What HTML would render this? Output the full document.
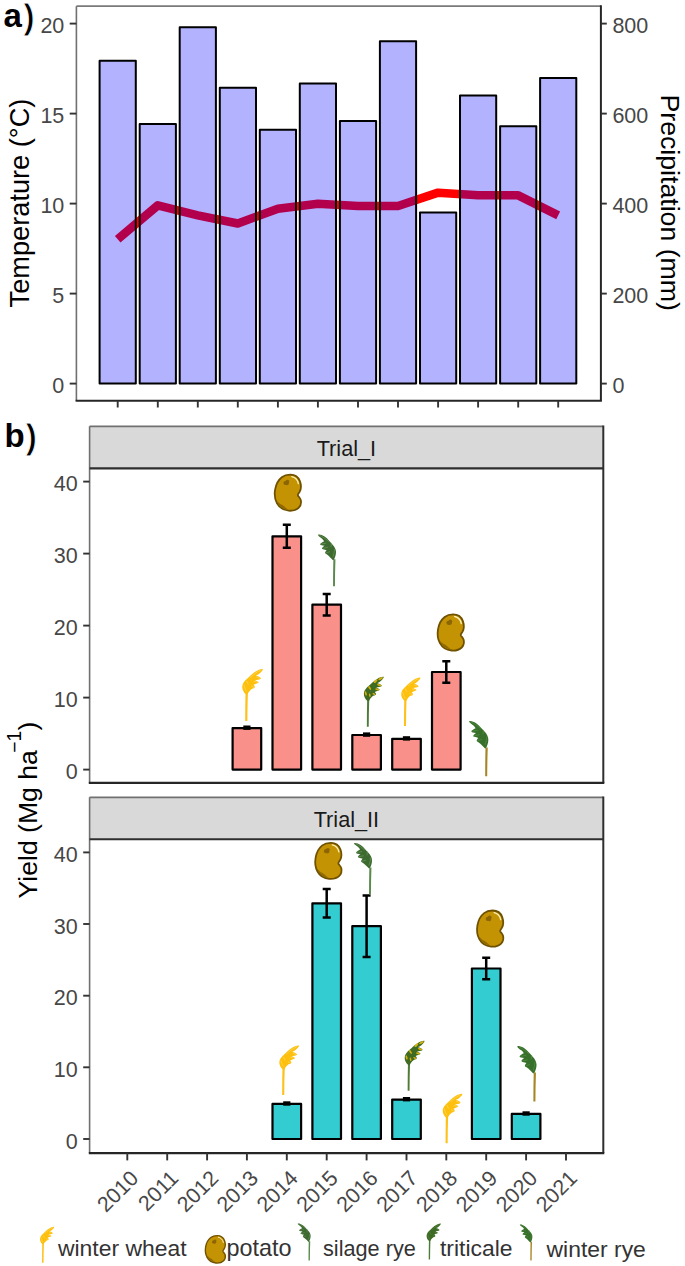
<!DOCTYPE html>
<html><head><meta charset="utf-8"><style>
html,body{margin:0;padding:0;background:#fff;width:685px;height:1266px;overflow:hidden}
svg{display:block}
text{font-family:"Liberation Sans", sans-serif}
.tk{font-size:21.5px;fill:#474747}
.ti{font-size:27.2px;fill:#000}
.st{font-size:21.7px;fill:#1a1a1a}
.lab{font-size:33px;font-weight:bold;fill:#000}
.par{font-size:34.5px;font-weight:bold;fill:#000;stroke:#fff;stroke-width:0.9px;paint-order:normal}
.lg{font-size:22.6px;fill:#333}
</style></head><body>
<svg width="685" height="1266" viewBox="0 0 685 1266">
<rect width="685" height="1266" fill="#fff"/>
<polyline points="117.7,239.3 157.8,205.4 197.8,215.4 237.8,223.5 277.9,208.7 317.9,203.8 358.0,206.0 398.0,206.0 438.1,192.7 478.1,195.3 518.2,195.3 558.2,215.4" fill="none" stroke="#ff0000" stroke-width="8.6" stroke-linejoin="round"/>
<rect x="99.6" y="60.7" width="36.2" height="322.9" fill="rgba(0,0,255,0.3)" stroke="#000" stroke-width="2.0" stroke-linejoin="round"/>
<rect x="139.7" y="123.9" width="36.2" height="259.7" fill="rgba(0,0,255,0.3)" stroke="#000" stroke-width="2.0" stroke-linejoin="round"/>
<rect x="179.7" y="27.2" width="36.2" height="356.4" fill="rgba(0,0,255,0.3)" stroke="#000" stroke-width="2.0" stroke-linejoin="round"/>
<rect x="219.8" y="87.7" width="36.2" height="295.9" fill="rgba(0,0,255,0.3)" stroke="#000" stroke-width="2.0" stroke-linejoin="round"/>
<rect x="259.8" y="129.7" width="36.2" height="253.9" fill="rgba(0,0,255,0.3)" stroke="#000" stroke-width="2.0" stroke-linejoin="round"/>
<rect x="299.8" y="83.4" width="36.2" height="300.2" fill="rgba(0,0,255,0.3)" stroke="#000" stroke-width="2.0" stroke-linejoin="round"/>
<rect x="339.9" y="121.0" width="36.2" height="262.6" fill="rgba(0,0,255,0.3)" stroke="#000" stroke-width="2.0" stroke-linejoin="round"/>
<rect x="379.9" y="41.3" width="36.2" height="342.3" fill="rgba(0,0,255,0.3)" stroke="#000" stroke-width="2.0" stroke-linejoin="round"/>
<rect x="420.0" y="212.4" width="36.2" height="171.2" fill="rgba(0,0,255,0.3)" stroke="#000" stroke-width="2.0" stroke-linejoin="round"/>
<rect x="460.0" y="95.5" width="36.2" height="288.1" fill="rgba(0,0,255,0.3)" stroke="#000" stroke-width="2.0" stroke-linejoin="round"/>
<rect x="500.1" y="126.3" width="36.2" height="257.3" fill="rgba(0,0,255,0.3)" stroke="#000" stroke-width="2.0" stroke-linejoin="round"/>
<rect x="540.1" y="78.0" width="36.2" height="305.6" fill="rgba(0,0,255,0.3)" stroke="#000" stroke-width="2.0" stroke-linejoin="round"/>
<line x1="76.4" y1="6.2" x2="600.9" y2="6.2" stroke="#7a7a7a" stroke-width="1.8"/>
<line x1="76.4" y1="6.2" x2="76.4" y2="400.8" stroke="#707070" stroke-width="1.6"/>
<line x1="75.60000000000001" y1="400.8" x2="601.9" y2="400.8" stroke="#262626" stroke-width="2"/>
<line x1="600.9" y1="5.3" x2="600.9" y2="400.8" stroke="#262626" stroke-width="2"/>
<line x1="69.7" y1="383.6" x2="76.4" y2="383.6" stroke="#333" stroke-width="1.9"/>
<line x1="600.9" y1="383.6" x2="606.8" y2="383.6" stroke="#333" stroke-width="1.9"/>
<text x="64.3" y="393.2" text-anchor="end" class="tk">0</text>
<text x="612.4" y="393.2" class="tk">0</text>
<line x1="69.7" y1="293.6" x2="76.4" y2="293.6" stroke="#333" stroke-width="1.9"/>
<line x1="600.9" y1="293.6" x2="606.8" y2="293.6" stroke="#333" stroke-width="1.9"/>
<text x="64.3" y="303.2" text-anchor="end" class="tk">5</text>
<text x="612.4" y="303.2" class="tk">200</text>
<line x1="69.7" y1="203.6" x2="76.4" y2="203.6" stroke="#333" stroke-width="1.9"/>
<line x1="600.9" y1="203.6" x2="606.8" y2="203.6" stroke="#333" stroke-width="1.9"/>
<text x="64.3" y="213.2" text-anchor="end" class="tk">10</text>
<text x="612.4" y="213.2" class="tk">400</text>
<line x1="69.7" y1="113.6" x2="76.4" y2="113.6" stroke="#333" stroke-width="1.9"/>
<line x1="600.9" y1="113.6" x2="606.8" y2="113.6" stroke="#333" stroke-width="1.9"/>
<text x="64.3" y="123.2" text-anchor="end" class="tk">15</text>
<text x="612.4" y="123.2" class="tk">600</text>
<line x1="69.7" y1="23.6" x2="76.4" y2="23.6" stroke="#333" stroke-width="1.9"/>
<line x1="600.9" y1="23.6" x2="606.8" y2="23.6" stroke="#333" stroke-width="1.9"/>
<text x="64.3" y="33.2" text-anchor="end" class="tk">20</text>
<text x="612.4" y="33.2" class="tk">800</text>
<line x1="117.7" y1="400.8" x2="117.7" y2="407.5" stroke="#333" stroke-width="1.9"/>
<line x1="157.8" y1="400.8" x2="157.8" y2="407.5" stroke="#333" stroke-width="1.9"/>
<line x1="197.8" y1="400.8" x2="197.8" y2="407.5" stroke="#333" stroke-width="1.9"/>
<line x1="237.8" y1="400.8" x2="237.8" y2="407.5" stroke="#333" stroke-width="1.9"/>
<line x1="277.9" y1="400.8" x2="277.9" y2="407.5" stroke="#333" stroke-width="1.9"/>
<line x1="317.9" y1="400.8" x2="317.9" y2="407.5" stroke="#333" stroke-width="1.9"/>
<line x1="358.0" y1="400.8" x2="358.0" y2="407.5" stroke="#333" stroke-width="1.9"/>
<line x1="398.0" y1="400.8" x2="398.0" y2="407.5" stroke="#333" stroke-width="1.9"/>
<line x1="438.1" y1="400.8" x2="438.1" y2="407.5" stroke="#333" stroke-width="1.9"/>
<line x1="478.1" y1="400.8" x2="478.1" y2="407.5" stroke="#333" stroke-width="1.9"/>
<line x1="518.2" y1="400.8" x2="518.2" y2="407.5" stroke="#333" stroke-width="1.9"/>
<line x1="558.2" y1="400.8" x2="558.2" y2="407.5" stroke="#333" stroke-width="1.9"/>
<text transform="translate(28.6,203) rotate(-90)" text-anchor="middle" class="ti">Temperature (°C)</text>
<text transform="translate(660.6,202.7) rotate(90)" text-anchor="middle" class="ti" style="font-size:26.7px">Precipitation (mm)</text>
<text transform="translate(3.6,27.2) scale(1.0,1)" class="lab">a</text><text x="23.2" y="29.0" class="par">)</text>
<rect x="89.6" y="426.3" width="513.6999999999999" height="42.099999999999966" fill="#d9d9d9"/>
<line x1="89.6" y1="426.3" x2="603.3" y2="426.3" stroke="#707070" stroke-width="1.8"/>
<text x="346.4" y="455.8" text-anchor="middle" class="st">Trial_I</text>
<rect x="232.6" y="728.1" width="28.6" height="41.5" fill="#f9918a" stroke="#000" stroke-width="2.2" stroke-linejoin="round"/>
<rect x="243.3" y="725.5" width="7.2" height="4.4" fill="#000"/>
<rect x="272.5" y="536.3" width="28.6" height="233.3" fill="#f9918a" stroke="#000" stroke-width="2.2" stroke-linejoin="round"/>
<path d="M282.8,524.8H290.8M286.8,524.8V547.8M282.8,547.8H290.8" stroke="#000" stroke-width="2.5" fill="none"/>
<rect x="312.4" y="604.7" width="28.6" height="164.9" fill="#f9918a" stroke="#000" stroke-width="2.2" stroke-linejoin="round"/>
<path d="M322.7,593.9H330.7M326.7,593.9V615.5M322.7,615.5H330.7" stroke="#000" stroke-width="2.5" fill="none"/>
<rect x="352.3" y="735.0" width="28.6" height="34.6" fill="#f9918a" stroke="#000" stroke-width="2.2" stroke-linejoin="round"/>
<rect x="363.0" y="732.4" width="7.2" height="4.4" fill="#000"/>
<rect x="392.2" y="738.8" width="28.6" height="30.8" fill="#f9918a" stroke="#000" stroke-width="2.2" stroke-linejoin="round"/>
<rect x="402.9" y="736.2" width="7.2" height="4.4" fill="#000"/>
<rect x="432.0" y="672.0" width="28.6" height="97.6" fill="#f9918a" stroke="#000" stroke-width="2.2" stroke-linejoin="round"/>
<path d="M442.3,661.2H450.3M446.3,661.2V682.8M442.3,682.8H450.3" stroke="#000" stroke-width="2.5" fill="none"/>
<line x1="89.6" y1="426.3" x2="89.6" y2="782.9" stroke="#707070" stroke-width="1.6"/>
<line x1="603.3" y1="425.40000000000003" x2="603.3" y2="782.9" stroke="#2e2e2e" stroke-width="2"/>
<line x1="89.6" y1="468.4" x2="603.3" y2="468.4" stroke="#2e2e2e" stroke-width="2.1"/>
<line x1="88.8" y1="782.9" x2="604.3" y2="782.9" stroke="#262626" stroke-width="2.1"/>
<line x1="83.2" y1="769.6" x2="89.6" y2="769.6" stroke="#333" stroke-width="1.9"/>
<text x="77.6" y="779.2" text-anchor="end" class="tk">0</text>
<line x1="83.2" y1="697.6" x2="89.6" y2="697.6" stroke="#333" stroke-width="1.9"/>
<text x="77.6" y="707.2" text-anchor="end" class="tk">10</text>
<line x1="83.2" y1="625.6" x2="89.6" y2="625.6" stroke="#333" stroke-width="1.9"/>
<text x="77.6" y="635.2" text-anchor="end" class="tk">20</text>
<line x1="83.2" y1="553.6" x2="89.6" y2="553.6" stroke="#333" stroke-width="1.9"/>
<text x="77.6" y="563.2" text-anchor="end" class="tk">30</text>
<line x1="83.2" y1="481.6" x2="89.6" y2="481.6" stroke="#333" stroke-width="1.9"/>
<text x="77.6" y="491.2" text-anchor="end" class="tk">40</text>
<rect x="89.6" y="797.3" width="513.6999999999999" height="41.90000000000009" fill="#d9d9d9"/>
<line x1="89.6" y1="797.3" x2="603.3" y2="797.3" stroke="#707070" stroke-width="1.8"/>
<text x="346.4" y="826.8" text-anchor="middle" class="st">Trial_II</text>
<rect x="272.5" y="1103.9" width="28.6" height="35.1" fill="#33ccd0" stroke="#000" stroke-width="2.2" stroke-linejoin="round"/>
<rect x="283.2" y="1101.3" width="7.2" height="4.4" fill="#000"/>
<rect x="312.4" y="903.3" width="28.6" height="235.7" fill="#33ccd0" stroke="#000" stroke-width="2.2" stroke-linejoin="round"/>
<path d="M322.7,888.9H330.7M326.7,888.9V917.6M322.7,917.6H330.7" stroke="#000" stroke-width="2.5" fill="none"/>
<rect x="352.3" y="926.2" width="28.6" height="212.8" fill="#33ccd0" stroke="#000" stroke-width="2.2" stroke-linejoin="round"/>
<path d="M362.6,895.4H370.6M366.6,895.4V957.0M362.6,957.0H370.6" stroke="#000" stroke-width="2.5" fill="none"/>
<rect x="392.2" y="1099.6" width="28.6" height="39.4" fill="#33ccd0" stroke="#000" stroke-width="2.2" stroke-linejoin="round"/>
<rect x="402.9" y="1097.0" width="7.2" height="4.4" fill="#000"/>
<rect x="471.9" y="968.5" width="28.6" height="170.5" fill="#33ccd0" stroke="#000" stroke-width="2.2" stroke-linejoin="round"/>
<path d="M482.2,957.7H490.2M486.2,957.7V979.2M482.2,979.2H490.2" stroke="#000" stroke-width="2.5" fill="none"/>
<rect x="511.8" y="1113.9" width="28.6" height="25.1" fill="#33ccd0" stroke="#000" stroke-width="2.2" stroke-linejoin="round"/>
<rect x="522.5" y="1111.3" width="7.2" height="4.4" fill="#000"/>
<line x1="89.6" y1="797.3" x2="89.6" y2="1153.1" stroke="#707070" stroke-width="1.6"/>
<line x1="603.3" y1="796.4" x2="603.3" y2="1153.1" stroke="#2e2e2e" stroke-width="2"/>
<line x1="89.6" y1="839.2" x2="603.3" y2="839.2" stroke="#2e2e2e" stroke-width="2.1"/>
<line x1="88.8" y1="1153.1" x2="604.3" y2="1153.1" stroke="#262626" stroke-width="2.1"/>
<line x1="83.2" y1="1139.0" x2="89.6" y2="1139.0" stroke="#333" stroke-width="1.9"/>
<text x="77.6" y="1148.6" text-anchor="end" class="tk">0</text>
<line x1="83.2" y1="1067.3" x2="89.6" y2="1067.3" stroke="#333" stroke-width="1.9"/>
<text x="77.6" y="1076.9" text-anchor="end" class="tk">10</text>
<line x1="83.2" y1="995.7" x2="89.6" y2="995.7" stroke="#333" stroke-width="1.9"/>
<text x="77.6" y="1005.3" text-anchor="end" class="tk">20</text>
<line x1="83.2" y1="924.0" x2="89.6" y2="924.0" stroke="#333" stroke-width="1.9"/>
<text x="77.6" y="933.6" text-anchor="end" class="tk">30</text>
<line x1="83.2" y1="852.4" x2="89.6" y2="852.4" stroke="#333" stroke-width="1.9"/>
<text x="77.6" y="862.0" text-anchor="end" class="tk">40</text>
<line x1="127.3" y1="1153.1" x2="127.3" y2="1160.4" stroke="#333" stroke-width="1.9"/>
<text transform="translate(139.8,1179.5) rotate(-45)" text-anchor="end" class="tk">2010</text>
<line x1="167.2" y1="1153.1" x2="167.2" y2="1160.4" stroke="#333" stroke-width="1.9"/>
<text transform="translate(179.7,1179.5) rotate(-45)" text-anchor="end" class="tk">2011</text>
<line x1="207.1" y1="1153.1" x2="207.1" y2="1160.4" stroke="#333" stroke-width="1.9"/>
<text transform="translate(219.6,1179.5) rotate(-45)" text-anchor="end" class="tk">2012</text>
<line x1="246.9" y1="1153.1" x2="246.9" y2="1160.4" stroke="#333" stroke-width="1.9"/>
<text transform="translate(259.4,1179.5) rotate(-45)" text-anchor="end" class="tk">2013</text>
<line x1="286.8" y1="1153.1" x2="286.8" y2="1160.4" stroke="#333" stroke-width="1.9"/>
<text transform="translate(299.3,1179.5) rotate(-45)" text-anchor="end" class="tk">2014</text>
<line x1="326.7" y1="1153.1" x2="326.7" y2="1160.4" stroke="#333" stroke-width="1.9"/>
<text transform="translate(339.2,1179.5) rotate(-45)" text-anchor="end" class="tk">2015</text>
<line x1="366.6" y1="1153.1" x2="366.6" y2="1160.4" stroke="#333" stroke-width="1.9"/>
<text transform="translate(379.1,1179.5) rotate(-45)" text-anchor="end" class="tk">2016</text>
<line x1="406.5" y1="1153.1" x2="406.5" y2="1160.4" stroke="#333" stroke-width="1.9"/>
<text transform="translate(419.0,1179.5) rotate(-45)" text-anchor="end" class="tk">2017</text>
<line x1="446.3" y1="1153.1" x2="446.3" y2="1160.4" stroke="#333" stroke-width="1.9"/>
<text transform="translate(458.8,1179.5) rotate(-45)" text-anchor="end" class="tk">2018</text>
<line x1="486.2" y1="1153.1" x2="486.2" y2="1160.4" stroke="#333" stroke-width="1.9"/>
<text transform="translate(498.7,1179.5) rotate(-45)" text-anchor="end" class="tk">2019</text>
<line x1="526.1" y1="1153.1" x2="526.1" y2="1160.4" stroke="#333" stroke-width="1.9"/>
<text transform="translate(538.6,1179.5) rotate(-45)" text-anchor="end" class="tk">2020</text>
<line x1="566.0" y1="1153.1" x2="566.0" y2="1160.4" stroke="#333" stroke-width="1.9"/>
<text transform="translate(578.5,1179.5) rotate(-45)" text-anchor="end" class="tk">2021</text>
<text transform="translate(37.0,810.0) rotate(-90)" text-anchor="middle" class="ti" style="font-size:26.6px">Yield (Mg ha<tspan dy="-15.6" dx="-2.6" style="font-size:19.3px">−1</tspan><tspan dy="15.6" dx="0.3">)</tspan></text>
<text transform="translate(4.6,446.9) scale(1.0,1)" class="lab">b</text><text x="25.4" y="448.8" class="par">)</text>
<g transform="translate(246.3,721.0) scale(1.040)"><path d="M-1.05,0 C-1.05,-9 -0.95,-18 -0.75,-27.5 L1.55,-27.5 C1.25,-18 1.05,-9 1.05,0 Z" fill="#fec11a"/><path d="M-0.3,-25.8 C-2.6,-27.4 -4.2,-30.6 -3.9,-33.5 C-3.6,-36.5 -1.5,-38.8 0.7,-40.7 C3.5,-43.3 6.2,-46.2 9.4,-47.9 C11.2,-49.0 13.5,-50.2 15.9,-50.0 C15.9,-48.9 15.3,-48.2 14.5,-47.4 C13.6,-46.4 12.5,-45.5 11.4,-44.6 C10.6,-44.2 9.9,-44 9.4,-43.8 C10.8,-43.3 12.2,-42.8 13.1,-42 C13.8,-41.5 14.1,-41.1 14.0,-40.7 C13.1,-40.1 12.3,-39.8 11.3,-39.7 C10.3,-39.6 9.3,-39.5 8.4,-39.3 C9.4,-38.7 10.6,-38.3 11.3,-37.8 C11.7,-37.5 11.9,-37.1 11.8,-36.8 C11.1,-36.3 10.3,-36.1 9.4,-35.9 C8.5,-35.6 7.7,-35.2 7.0,-34.9 C7.6,-34.3 8.1,-33.6 8.2,-33.0 C8.2,-32.5 8.0,-32.1 7.7,-31.8 C7,-31.5 6.2,-31.3 5.5,-31.1 C4.4,-30.3 3.4,-29.3 2.6,-28.2 C2,-27.4 1.6,-26.6 1.2,-25.8 Z" fill="#fec00e"/><g stroke="#ffe27c" stroke-width="0.7" fill="none" stroke-linecap="round" opacity="0.75"><path d="M3.5,-41.5 C6,-44 9,-46.5 13.5,-48.8"/><path d="M9.8,-42.4 L12.6,-41.2"/><path d="M7.6,-38.2 L10.6,-37.2"/><path d="M5.0,-33.6 L7.2,-32.4"/><path d="M-2.2,-34.5 C-1.8,-32.6 -1.2,-30.6 0,-28.8"/><path d="M0.4,-38.2 L1.8,-35.2"/></g></g>
<g transform="translate(274.5,474.1) scale(1.000)"><path d="M15.7,0.5 C20,0.5 24,2.9 25.5,7.2 C26.8,11 26.7,15 25.1,17.8 C24.1,19.4 23,20.2 23.4,21.4 C24,22.6 25.7,23.6 26.3,26 C26.9,28.8 26.3,31.6 24.3,33.6 C21.5,36.3 17.8,36.9 14.2,36.6 C9,36.1 4.8,33.5 2.5,29.2 C0.3,25.2 -0.2,20.2 0.6,15.5 C1.4,10.6 3.6,6.0 7.3,3.1 C9.6,1.3 12.4,0.5 15.7,0.5 Z" fill="#c49303" stroke="#6f5100" stroke-width="1.8"/><circle cx="11.0" cy="8.9" r="2.1" fill="#8c6600"/><circle cx="12.9" cy="7.5" r="1.9" fill="#8c6600"/><circle cx="12.6" cy="9.4" r="1.8" fill="#8c6600"/><path d="M17.3,2.6 C20.6,3.4 23.1,5.6 23.9,9.6" stroke="#fff1b8" stroke-width="1.3" fill="none" stroke-linecap="round"/><path d="M2.2,26.8 C3.6,31 7.6,34.6 13.2,35.6 C12.4,34 10.8,33.6 9.6,32.2 C8.4,30.6 6.4,30.8 5.2,29.4 C4.2,28.4 3.2,27.4 2.2,26.8 Z" fill="#8a6500" opacity="0.9"/></g>
<g transform="translate(334.0,586.2) scale(1.000)"><path d="M-0.95,0 C-0.95,-9 -0.85,-18 -0.65,-27.0 L1.45,-27.0 C1.15,-18 0.95,-9 0.95,0 Z" fill="#5a8a4b"/><path d="M-0.3,-26.3 C0.9,-28 2.1,-31.5 2.0,-34.4 C1.9,-36.6 0.8,-39.4 -1.8,-42 C-3.6,-43.8 -6.2,-47.6 -9.4,-49.6 C-11.6,-51 -14,-52 -15.9,-51.6 C-16,-50.9 -15.6,-50.4 -15.2,-50.0 C-14.1,-49.0 -12.9,-48.3 -11.9,-47.5 C-11.1,-46.8 -10.4,-45.9 -9.9,-45.0 C-11.4,-44.3 -12.8,-43.4 -13.7,-42.5 C-14,-42.1 -13.8,-41.6 -13.4,-41.2 C-12.1,-40.8 -10.6,-40.6 -9.4,-40.5 C-10.6,-39.8 -11.6,-38.8 -12.1,-37.9 C-12.2,-37.4 -11.7,-37.1 -11.1,-36.9 C-9.8,-36.5 -8.5,-36.2 -7.3,-35.9 C-8.1,-35.2 -8.8,-34.3 -8.9,-33.4 C-8.9,-32.8 -8.2,-32.3 -7.3,-31.9 C-6,-31 -4.8,-29.8 -3.8,-28.8 C-2.8,-27.8 -2,-27 -1.3,-26.3 Z" fill="#3c6a2f"/><g stroke="#78a266" stroke-width="0.75" fill="none" stroke-linecap="round" opacity="0.75"><path d="M-14.2,-50.8 C-11.5,-49.6 -8.5,-47.6 -5.5,-44.8"/><path d="M-12.4,-42.2 L-8.2,-43.0"/><path d="M-10.8,-37.9 L-6.6,-38.8"/><path d="M-7.8,-33.3 L-4.4,-34.4"/><path d="M0.6,-36.6 C0.4,-34.2 -0.2,-31.6 -1.0,-29.4"/><path d="M-2.6,-43.0 L-3.0,-39.6"/></g></g>
<g transform="translate(367.8,726.8) scale(1.000)"><path d="M-0.95,0 C-0.95,-9 -0.85,-18 -0.65,-27.5 L1.45,-27.5 C1.15,-18 0.95,-9 0.95,0 Z" fill="#4e7c38"/><path d="M-0.3,-25.8 C-2.6,-27.4 -4.2,-30.6 -3.9,-33.5 C-3.6,-36.5 -1.5,-38.8 0.7,-40.7 C3.5,-43.3 6.2,-46.2 9.4,-47.9 C11.2,-49.0 13.5,-50.2 15.9,-50.0 C15.9,-48.9 15.3,-48.2 14.5,-47.4 C13.6,-46.4 12.5,-45.5 11.4,-44.6 C10.6,-44.2 9.9,-44 9.4,-43.8 C10.8,-43.3 12.2,-42.8 13.1,-42 C13.8,-41.5 14.1,-41.1 14.0,-40.7 C13.1,-40.1 12.3,-39.8 11.3,-39.7 C10.3,-39.6 9.3,-39.5 8.4,-39.3 C9.4,-38.7 10.6,-38.3 11.3,-37.8 C11.7,-37.5 11.9,-37.1 11.8,-36.8 C11.1,-36.3 10.3,-36.1 9.4,-35.9 C8.5,-35.6 7.7,-35.2 7.0,-34.9 C7.6,-34.3 8.1,-33.6 8.2,-33.0 C8.2,-32.5 8.0,-32.1 7.7,-31.8 C7,-31.5 6.2,-31.3 5.5,-31.1 C4.4,-30.3 3.4,-29.3 2.6,-28.2 C2,-27.4 1.6,-26.6 1.2,-25.8 Z" fill="#3f6b22"/><ellipse cx="12.8" cy="-48.2" rx="2.6" ry="1.0" transform="rotate(-28,12.8,-48.2)" fill="#d7b00c"/><ellipse cx="7.8" cy="-45.6" rx="2.4" ry="1.0" transform="rotate(-45,7.8,-45.6)" fill="#d7b00c"/><ellipse cx="11.4" cy="-41.7" rx="2.2" ry="0.9" transform="rotate(22,11.4,-41.7)" fill="#d7b00c"/><ellipse cx="9.4" cy="-37.4" rx="2.0" ry="0.9" transform="rotate(14,9.4,-37.4)" fill="#d7b00c"/><ellipse cx="6.1" cy="-32.8" rx="1.5" ry="0.8" transform="rotate(25,6.1,-32.8)" fill="#d7b00c"/><ellipse cx="-2.0" cy="-33.4" rx="0.9" ry="2.3" transform="rotate(-15,-2.0,-33.4)" fill="#d7b00c"/><ellipse cx="1.9" cy="-38.8" rx="0.9" ry="2.2" transform="rotate(-35,1.9,-38.8)" fill="#d7b00c"/><ellipse cx="2.0" cy="-31.5" rx="0.8" ry="1.8" transform="rotate(-10,2.0,-31.5)" fill="#d7b00c"/></g>
<g transform="translate(405.0,726.0) scale(0.970)"><path d="M-1.05,0 C-1.05,-9 -0.95,-18 -0.75,-27.5 L1.55,-27.5 C1.25,-18 1.05,-9 1.05,0 Z" fill="#fec11a"/><path d="M-0.3,-25.8 C-2.6,-27.4 -4.2,-30.6 -3.9,-33.5 C-3.6,-36.5 -1.5,-38.8 0.7,-40.7 C3.5,-43.3 6.2,-46.2 9.4,-47.9 C11.2,-49.0 13.5,-50.2 15.9,-50.0 C15.9,-48.9 15.3,-48.2 14.5,-47.4 C13.6,-46.4 12.5,-45.5 11.4,-44.6 C10.6,-44.2 9.9,-44 9.4,-43.8 C10.8,-43.3 12.2,-42.8 13.1,-42 C13.8,-41.5 14.1,-41.1 14.0,-40.7 C13.1,-40.1 12.3,-39.8 11.3,-39.7 C10.3,-39.6 9.3,-39.5 8.4,-39.3 C9.4,-38.7 10.6,-38.3 11.3,-37.8 C11.7,-37.5 11.9,-37.1 11.8,-36.8 C11.1,-36.3 10.3,-36.1 9.4,-35.9 C8.5,-35.6 7.7,-35.2 7.0,-34.9 C7.6,-34.3 8.1,-33.6 8.2,-33.0 C8.2,-32.5 8.0,-32.1 7.7,-31.8 C7,-31.5 6.2,-31.3 5.5,-31.1 C4.4,-30.3 3.4,-29.3 2.6,-28.2 C2,-27.4 1.6,-26.6 1.2,-25.8 Z" fill="#fec00e"/><g stroke="#ffe27c" stroke-width="0.7" fill="none" stroke-linecap="round" opacity="0.75"><path d="M3.5,-41.5 C6,-44 9,-46.5 13.5,-48.8"/><path d="M9.8,-42.4 L12.6,-41.2"/><path d="M7.6,-38.2 L10.6,-37.2"/><path d="M5.0,-33.6 L7.2,-32.4"/><path d="M-2.2,-34.5 C-1.8,-32.6 -1.2,-30.6 0,-28.8"/><path d="M0.4,-38.2 L1.8,-35.2"/></g></g>
<g transform="translate(437.4,613.9) scale(1.000)"><path d="M15.7,0.5 C20,0.5 24,2.9 25.5,7.2 C26.8,11 26.7,15 25.1,17.8 C24.1,19.4 23,20.2 23.4,21.4 C24,22.6 25.7,23.6 26.3,26 C26.9,28.8 26.3,31.6 24.3,33.6 C21.5,36.3 17.8,36.9 14.2,36.6 C9,36.1 4.8,33.5 2.5,29.2 C0.3,25.2 -0.2,20.2 0.6,15.5 C1.4,10.6 3.6,6.0 7.3,3.1 C9.6,1.3 12.4,0.5 15.7,0.5 Z" fill="#c49303" stroke="#6f5100" stroke-width="1.8"/><circle cx="11.0" cy="8.9" r="2.1" fill="#8c6600"/><circle cx="12.9" cy="7.5" r="1.9" fill="#8c6600"/><circle cx="12.6" cy="9.4" r="1.8" fill="#8c6600"/><path d="M17.3,2.6 C20.6,3.4 23.1,5.6 23.9,9.6" stroke="#fff1b8" stroke-width="1.3" fill="none" stroke-linecap="round"/><path d="M2.2,26.8 C3.6,31 7.6,34.6 13.2,35.6 C12.4,34 10.8,33.6 9.6,32.2 C8.4,30.6 6.4,30.8 5.2,29.4 C4.2,28.4 3.2,27.4 2.2,26.8 Z" fill="#8a6500" opacity="0.9"/></g>
<g transform="translate(486.2,776.3) scale(1.070)"><path d="M-0.95,0 C-0.95,-9 -0.85,-18 -0.65,-27.0 L1.45,-27.0 C1.15,-18 0.95,-9 0.95,0 Z" fill="#a68524"/><path d="M-0.3,-26.3 C0.9,-28 2.1,-31.5 2.0,-34.4 C1.9,-36.6 0.8,-39.4 -1.8,-42 C-3.6,-43.8 -6.2,-47.6 -9.4,-49.6 C-11.6,-51 -14,-52 -15.9,-51.6 C-16,-50.9 -15.6,-50.4 -15.2,-50.0 C-14.1,-49.0 -12.9,-48.3 -11.9,-47.5 C-11.1,-46.8 -10.4,-45.9 -9.9,-45.0 C-11.4,-44.3 -12.8,-43.4 -13.7,-42.5 C-14,-42.1 -13.8,-41.6 -13.4,-41.2 C-12.1,-40.8 -10.6,-40.6 -9.4,-40.5 C-10.6,-39.8 -11.6,-38.8 -12.1,-37.9 C-12.2,-37.4 -11.7,-37.1 -11.1,-36.9 C-9.8,-36.5 -8.5,-36.2 -7.3,-35.9 C-8.1,-35.2 -8.8,-34.3 -8.9,-33.4 C-8.9,-32.8 -8.2,-32.3 -7.3,-31.9 C-6,-31 -4.8,-29.8 -3.8,-28.8 C-2.8,-27.8 -2,-27 -1.3,-26.3 Z" fill="#37702a"/><g stroke="#5a9445" stroke-width="0.75" fill="none" stroke-linecap="round" opacity="0.75"><path d="M-14.2,-50.8 C-11.5,-49.6 -8.5,-47.6 -5.5,-44.8"/><path d="M-12.4,-42.2 L-8.2,-43.0"/><path d="M-10.8,-37.9 L-6.6,-38.8"/><path d="M-7.8,-33.3 L-4.4,-34.4"/><path d="M0.6,-36.6 C0.4,-34.2 -0.2,-31.6 -1.0,-29.4"/><path d="M-2.6,-43.0 L-3.0,-39.6"/></g></g>
<g transform="translate(283.2,1095.0) scale(0.990)"><path d="M-1.05,0 C-1.05,-9 -0.95,-18 -0.75,-27.5 L1.55,-27.5 C1.25,-18 1.05,-9 1.05,0 Z" fill="#fec11a"/><path d="M-0.3,-25.8 C-2.6,-27.4 -4.2,-30.6 -3.9,-33.5 C-3.6,-36.5 -1.5,-38.8 0.7,-40.7 C3.5,-43.3 6.2,-46.2 9.4,-47.9 C11.2,-49.0 13.5,-50.2 15.9,-50.0 C15.9,-48.9 15.3,-48.2 14.5,-47.4 C13.6,-46.4 12.5,-45.5 11.4,-44.6 C10.6,-44.2 9.9,-44 9.4,-43.8 C10.8,-43.3 12.2,-42.8 13.1,-42 C13.8,-41.5 14.1,-41.1 14.0,-40.7 C13.1,-40.1 12.3,-39.8 11.3,-39.7 C10.3,-39.6 9.3,-39.5 8.4,-39.3 C9.4,-38.7 10.6,-38.3 11.3,-37.8 C11.7,-37.5 11.9,-37.1 11.8,-36.8 C11.1,-36.3 10.3,-36.1 9.4,-35.9 C8.5,-35.6 7.7,-35.2 7.0,-34.9 C7.6,-34.3 8.1,-33.6 8.2,-33.0 C8.2,-32.5 8.0,-32.1 7.7,-31.8 C7,-31.5 6.2,-31.3 5.5,-31.1 C4.4,-30.3 3.4,-29.3 2.6,-28.2 C2,-27.4 1.6,-26.6 1.2,-25.8 Z" fill="#fec00e"/><g stroke="#ffe27c" stroke-width="0.7" fill="none" stroke-linecap="round" opacity="0.75"><path d="M3.5,-41.5 C6,-44 9,-46.5 13.5,-48.8"/><path d="M9.8,-42.4 L12.6,-41.2"/><path d="M7.6,-38.2 L10.6,-37.2"/><path d="M5.0,-33.6 L7.2,-32.4"/><path d="M-2.2,-34.5 C-1.8,-32.6 -1.2,-30.6 0,-28.8"/><path d="M0.4,-38.2 L1.8,-35.2"/></g></g>
<g transform="translate(315.0,842.3) scale(1.000)"><path d="M15.7,0.5 C20,0.5 24,2.9 25.5,7.2 C26.8,11 26.7,15 25.1,17.8 C24.1,19.4 23,20.2 23.4,21.4 C24,22.6 25.7,23.6 26.3,26 C26.9,28.8 26.3,31.6 24.3,33.6 C21.5,36.3 17.8,36.9 14.2,36.6 C9,36.1 4.8,33.5 2.5,29.2 C0.3,25.2 -0.2,20.2 0.6,15.5 C1.4,10.6 3.6,6.0 7.3,3.1 C9.6,1.3 12.4,0.5 15.7,0.5 Z" fill="#c49303" stroke="#6f5100" stroke-width="1.8"/><circle cx="11.0" cy="8.9" r="2.1" fill="#8c6600"/><circle cx="12.9" cy="7.5" r="1.9" fill="#8c6600"/><circle cx="12.6" cy="9.4" r="1.8" fill="#8c6600"/><path d="M17.3,2.6 C20.6,3.4 23.1,5.6 23.9,9.6" stroke="#fff1b8" stroke-width="1.3" fill="none" stroke-linecap="round"/><path d="M2.2,26.8 C3.6,31 7.6,34.6 13.2,35.6 C12.4,34 10.8,33.6 9.6,32.2 C8.4,30.6 6.4,30.8 5.2,29.4 C4.2,28.4 3.2,27.4 2.2,26.8 Z" fill="#8a6500" opacity="0.9"/></g>
<g transform="translate(370.0,894.6) scale(1.000)"><path d="M-0.95,0 C-0.95,-9 -0.85,-18 -0.65,-27.0 L1.45,-27.0 C1.15,-18 0.95,-9 0.95,0 Z" fill="#5a8a4b"/><path d="M-0.3,-26.3 C0.9,-28 2.1,-31.5 2.0,-34.4 C1.9,-36.6 0.8,-39.4 -1.8,-42 C-3.6,-43.8 -6.2,-47.6 -9.4,-49.6 C-11.6,-51 -14,-52 -15.9,-51.6 C-16,-50.9 -15.6,-50.4 -15.2,-50.0 C-14.1,-49.0 -12.9,-48.3 -11.9,-47.5 C-11.1,-46.8 -10.4,-45.9 -9.9,-45.0 C-11.4,-44.3 -12.8,-43.4 -13.7,-42.5 C-14,-42.1 -13.8,-41.6 -13.4,-41.2 C-12.1,-40.8 -10.6,-40.6 -9.4,-40.5 C-10.6,-39.8 -11.6,-38.8 -12.1,-37.9 C-12.2,-37.4 -11.7,-37.1 -11.1,-36.9 C-9.8,-36.5 -8.5,-36.2 -7.3,-35.9 C-8.1,-35.2 -8.8,-34.3 -8.9,-33.4 C-8.9,-32.8 -8.2,-32.3 -7.3,-31.9 C-6,-31 -4.8,-29.8 -3.8,-28.8 C-2.8,-27.8 -2,-27 -1.3,-26.3 Z" fill="#3c6a2f"/><g stroke="#78a266" stroke-width="0.75" fill="none" stroke-linecap="round" opacity="0.75"><path d="M-14.2,-50.8 C-11.5,-49.6 -8.5,-47.6 -5.5,-44.8"/><path d="M-12.4,-42.2 L-8.2,-43.0"/><path d="M-10.8,-37.9 L-6.6,-38.8"/><path d="M-7.8,-33.3 L-4.4,-34.4"/><path d="M0.6,-36.6 C0.4,-34.2 -0.2,-31.6 -1.0,-29.4"/><path d="M-2.6,-43.0 L-3.0,-39.6"/></g></g>
<g transform="translate(408.6,1090.8) scale(1.000)"><path d="M-0.95,0 C-0.95,-9 -0.85,-18 -0.65,-27.5 L1.45,-27.5 C1.15,-18 0.95,-9 0.95,0 Z" fill="#4e7c38"/><path d="M-0.3,-25.8 C-2.6,-27.4 -4.2,-30.6 -3.9,-33.5 C-3.6,-36.5 -1.5,-38.8 0.7,-40.7 C3.5,-43.3 6.2,-46.2 9.4,-47.9 C11.2,-49.0 13.5,-50.2 15.9,-50.0 C15.9,-48.9 15.3,-48.2 14.5,-47.4 C13.6,-46.4 12.5,-45.5 11.4,-44.6 C10.6,-44.2 9.9,-44 9.4,-43.8 C10.8,-43.3 12.2,-42.8 13.1,-42 C13.8,-41.5 14.1,-41.1 14.0,-40.7 C13.1,-40.1 12.3,-39.8 11.3,-39.7 C10.3,-39.6 9.3,-39.5 8.4,-39.3 C9.4,-38.7 10.6,-38.3 11.3,-37.8 C11.7,-37.5 11.9,-37.1 11.8,-36.8 C11.1,-36.3 10.3,-36.1 9.4,-35.9 C8.5,-35.6 7.7,-35.2 7.0,-34.9 C7.6,-34.3 8.1,-33.6 8.2,-33.0 C8.2,-32.5 8.0,-32.1 7.7,-31.8 C7,-31.5 6.2,-31.3 5.5,-31.1 C4.4,-30.3 3.4,-29.3 2.6,-28.2 C2,-27.4 1.6,-26.6 1.2,-25.8 Z" fill="#3f6b22"/><ellipse cx="12.8" cy="-48.2" rx="2.6" ry="1.0" transform="rotate(-28,12.8,-48.2)" fill="#d7b00c"/><ellipse cx="7.8" cy="-45.6" rx="2.4" ry="1.0" transform="rotate(-45,7.8,-45.6)" fill="#d7b00c"/><ellipse cx="11.4" cy="-41.7" rx="2.2" ry="0.9" transform="rotate(22,11.4,-41.7)" fill="#d7b00c"/><ellipse cx="9.4" cy="-37.4" rx="2.0" ry="0.9" transform="rotate(14,9.4,-37.4)" fill="#d7b00c"/><ellipse cx="6.1" cy="-32.8" rx="1.5" ry="0.8" transform="rotate(25,6.1,-32.8)" fill="#d7b00c"/><ellipse cx="-2.0" cy="-33.4" rx="0.9" ry="2.3" transform="rotate(-15,-2.0,-33.4)" fill="#d7b00c"/><ellipse cx="1.9" cy="-38.8" rx="0.9" ry="2.2" transform="rotate(-35,1.9,-38.8)" fill="#d7b00c"/><ellipse cx="2.0" cy="-31.5" rx="0.8" ry="1.8" transform="rotate(-10,2.0,-31.5)" fill="#d7b00c"/></g>
<g transform="translate(446.6,1143.2) scale(0.990)"><path d="M-1.05,0 C-1.05,-9 -0.95,-18 -0.75,-27.5 L1.55,-27.5 C1.25,-18 1.05,-9 1.05,0 Z" fill="#fec11a"/><path d="M-0.3,-25.8 C-2.6,-27.4 -4.2,-30.6 -3.9,-33.5 C-3.6,-36.5 -1.5,-38.8 0.7,-40.7 C3.5,-43.3 6.2,-46.2 9.4,-47.9 C11.2,-49.0 13.5,-50.2 15.9,-50.0 C15.9,-48.9 15.3,-48.2 14.5,-47.4 C13.6,-46.4 12.5,-45.5 11.4,-44.6 C10.6,-44.2 9.9,-44 9.4,-43.8 C10.8,-43.3 12.2,-42.8 13.1,-42 C13.8,-41.5 14.1,-41.1 14.0,-40.7 C13.1,-40.1 12.3,-39.8 11.3,-39.7 C10.3,-39.6 9.3,-39.5 8.4,-39.3 C9.4,-38.7 10.6,-38.3 11.3,-37.8 C11.7,-37.5 11.9,-37.1 11.8,-36.8 C11.1,-36.3 10.3,-36.1 9.4,-35.9 C8.5,-35.6 7.7,-35.2 7.0,-34.9 C7.6,-34.3 8.1,-33.6 8.2,-33.0 C8.2,-32.5 8.0,-32.1 7.7,-31.8 C7,-31.5 6.2,-31.3 5.5,-31.1 C4.4,-30.3 3.4,-29.3 2.6,-28.2 C2,-27.4 1.6,-26.6 1.2,-25.8 Z" fill="#fec00e"/><g stroke="#ffe27c" stroke-width="0.7" fill="none" stroke-linecap="round" opacity="0.75"><path d="M3.5,-41.5 C6,-44 9,-46.5 13.5,-48.8"/><path d="M9.8,-42.4 L12.6,-41.2"/><path d="M7.6,-38.2 L10.6,-37.2"/><path d="M5.0,-33.6 L7.2,-32.4"/><path d="M-2.2,-34.5 C-1.8,-32.6 -1.2,-30.6 0,-28.8"/><path d="M0.4,-38.2 L1.8,-35.2"/></g></g>
<g transform="translate(476.8,910.0) scale(1.000)"><path d="M15.7,0.5 C20,0.5 24,2.9 25.5,7.2 C26.8,11 26.7,15 25.1,17.8 C24.1,19.4 23,20.2 23.4,21.4 C24,22.6 25.7,23.6 26.3,26 C26.9,28.8 26.3,31.6 24.3,33.6 C21.5,36.3 17.8,36.9 14.2,36.6 C9,36.1 4.8,33.5 2.5,29.2 C0.3,25.2 -0.2,20.2 0.6,15.5 C1.4,10.6 3.6,6.0 7.3,3.1 C9.6,1.3 12.4,0.5 15.7,0.5 Z" fill="#c49303" stroke="#6f5100" stroke-width="1.8"/><circle cx="11.0" cy="8.9" r="2.1" fill="#8c6600"/><circle cx="12.9" cy="7.5" r="1.9" fill="#8c6600"/><circle cx="12.6" cy="9.4" r="1.8" fill="#8c6600"/><path d="M17.3,2.6 C20.6,3.4 23.1,5.6 23.9,9.6" stroke="#fff1b8" stroke-width="1.3" fill="none" stroke-linecap="round"/><path d="M2.2,26.8 C3.6,31 7.6,34.6 13.2,35.6 C12.4,34 10.8,33.6 9.6,32.2 C8.4,30.6 6.4,30.8 5.2,29.4 C4.2,28.4 3.2,27.4 2.2,26.8 Z" fill="#8a6500" opacity="0.9"/></g>
<g transform="translate(534.4,1101.4) scale(1.070)"><path d="M-0.95,0 C-0.95,-9 -0.85,-18 -0.65,-27.0 L1.45,-27.0 C1.15,-18 0.95,-9 0.95,0 Z" fill="#a68524"/><path d="M-0.3,-26.3 C0.9,-28 2.1,-31.5 2.0,-34.4 C1.9,-36.6 0.8,-39.4 -1.8,-42 C-3.6,-43.8 -6.2,-47.6 -9.4,-49.6 C-11.6,-51 -14,-52 -15.9,-51.6 C-16,-50.9 -15.6,-50.4 -15.2,-50.0 C-14.1,-49.0 -12.9,-48.3 -11.9,-47.5 C-11.1,-46.8 -10.4,-45.9 -9.9,-45.0 C-11.4,-44.3 -12.8,-43.4 -13.7,-42.5 C-14,-42.1 -13.8,-41.6 -13.4,-41.2 C-12.1,-40.8 -10.6,-40.6 -9.4,-40.5 C-10.6,-39.8 -11.6,-38.8 -12.1,-37.9 C-12.2,-37.4 -11.7,-37.1 -11.1,-36.9 C-9.8,-36.5 -8.5,-36.2 -7.3,-35.9 C-8.1,-35.2 -8.8,-34.3 -8.9,-33.4 C-8.9,-32.8 -8.2,-32.3 -7.3,-31.9 C-6,-31 -4.8,-29.8 -3.8,-28.8 C-2.8,-27.8 -2,-27 -1.3,-26.3 Z" fill="#37702a"/><g stroke="#5a9445" stroke-width="0.75" fill="none" stroke-linecap="round" opacity="0.75"><path d="M-14.2,-50.8 C-11.5,-49.6 -8.5,-47.6 -5.5,-44.8"/><path d="M-12.4,-42.2 L-8.2,-43.0"/><path d="M-10.8,-37.9 L-6.6,-38.8"/><path d="M-7.8,-33.3 L-4.4,-34.4"/><path d="M0.6,-36.6 C0.4,-34.2 -0.2,-31.6 -1.0,-29.4"/><path d="M-2.6,-43.0 L-3.0,-39.6"/></g></g>
<g transform="translate(42.8,1262.8) scale(0.720)"><path d="M-1.05,0 C-1.05,-9 -0.95,-18 -0.75,-27.5 L1.55,-27.5 C1.25,-18 1.05,-9 1.05,0 Z" fill="#fec11a"/><path d="M-0.3,-25.8 C-2.6,-27.4 -4.2,-30.6 -3.9,-33.5 C-3.6,-36.5 -1.5,-38.8 0.7,-40.7 C3.5,-43.3 6.2,-46.2 9.4,-47.9 C11.2,-49.0 13.5,-50.2 15.9,-50.0 C15.9,-48.9 15.3,-48.2 14.5,-47.4 C13.6,-46.4 12.5,-45.5 11.4,-44.6 C10.6,-44.2 9.9,-44 9.4,-43.8 C10.8,-43.3 12.2,-42.8 13.1,-42 C13.8,-41.5 14.1,-41.1 14.0,-40.7 C13.1,-40.1 12.3,-39.8 11.3,-39.7 C10.3,-39.6 9.3,-39.5 8.4,-39.3 C9.4,-38.7 10.6,-38.3 11.3,-37.8 C11.7,-37.5 11.9,-37.1 11.8,-36.8 C11.1,-36.3 10.3,-36.1 9.4,-35.9 C8.5,-35.6 7.7,-35.2 7.0,-34.9 C7.6,-34.3 8.1,-33.6 8.2,-33.0 C8.2,-32.5 8.0,-32.1 7.7,-31.8 C7,-31.5 6.2,-31.3 5.5,-31.1 C4.4,-30.3 3.4,-29.3 2.6,-28.2 C2,-27.4 1.6,-26.6 1.2,-25.8 Z" fill="#fec00e"/><g stroke="#ffe27c" stroke-width="0.7" fill="none" stroke-linecap="round" opacity="0.75"><path d="M3.5,-41.5 C6,-44 9,-46.5 13.5,-48.8"/><path d="M9.8,-42.4 L12.6,-41.2"/><path d="M7.6,-38.2 L10.6,-37.2"/><path d="M5.0,-33.6 L7.2,-32.4"/><path d="M-2.2,-34.5 C-1.8,-32.6 -1.2,-30.6 0,-28.8"/><path d="M0.4,-38.2 L1.8,-35.2"/></g></g>
<g transform="translate(205.2,1235.2) scale(0.760)"><path d="M15.7,0.5 C20,0.5 24,2.9 25.5,7.2 C26.8,11 26.7,15 25.1,17.8 C24.1,19.4 23,20.2 23.4,21.4 C24,22.6 25.7,23.6 26.3,26 C26.9,28.8 26.3,31.6 24.3,33.6 C21.5,36.3 17.8,36.9 14.2,36.6 C9,36.1 4.8,33.5 2.5,29.2 C0.3,25.2 -0.2,20.2 0.6,15.5 C1.4,10.6 3.6,6.0 7.3,3.1 C9.6,1.3 12.4,0.5 15.7,0.5 Z" fill="#c49303" stroke="#6f5100" stroke-width="1.8"/><circle cx="11.0" cy="8.9" r="2.1" fill="#8c6600"/><circle cx="12.9" cy="7.5" r="1.9" fill="#8c6600"/><circle cx="12.6" cy="9.4" r="1.8" fill="#8c6600"/><path d="M17.3,2.6 C20.6,3.4 23.1,5.6 23.9,9.6" stroke="#fff1b8" stroke-width="1.3" fill="none" stroke-linecap="round"/><path d="M2.2,26.8 C3.6,31 7.6,34.6 13.2,35.6 C12.4,34 10.8,33.6 9.6,32.2 C8.4,30.6 6.4,30.8 5.2,29.4 C4.2,28.4 3.2,27.4 2.2,26.8 Z" fill="#8a6500" opacity="0.9"/></g>
<g transform="translate(309.2,1260.6) scale(0.720)"><path d="M-0.95,0 C-0.95,-9 -0.85,-18 -0.65,-27.0 L1.45,-27.0 C1.15,-18 0.95,-9 0.95,0 Z" fill="#5a8a4b"/><path d="M-0.3,-26.3 C0.9,-28 2.1,-31.5 2.0,-34.4 C1.9,-36.6 0.8,-39.4 -1.8,-42 C-3.6,-43.8 -6.2,-47.6 -9.4,-49.6 C-11.6,-51 -14,-52 -15.9,-51.6 C-16,-50.9 -15.6,-50.4 -15.2,-50.0 C-14.1,-49.0 -12.9,-48.3 -11.9,-47.5 C-11.1,-46.8 -10.4,-45.9 -9.9,-45.0 C-11.4,-44.3 -12.8,-43.4 -13.7,-42.5 C-14,-42.1 -13.8,-41.6 -13.4,-41.2 C-12.1,-40.8 -10.6,-40.6 -9.4,-40.5 C-10.6,-39.8 -11.6,-38.8 -12.1,-37.9 C-12.2,-37.4 -11.7,-37.1 -11.1,-36.9 C-9.8,-36.5 -8.5,-36.2 -7.3,-35.9 C-8.1,-35.2 -8.8,-34.3 -8.9,-33.4 C-8.9,-32.8 -8.2,-32.3 -7.3,-31.9 C-6,-31 -4.8,-29.8 -3.8,-28.8 C-2.8,-27.8 -2,-27 -1.3,-26.3 Z" fill="#3c6a2f"/><g stroke="#78a266" stroke-width="0.75" fill="none" stroke-linecap="round" opacity="0.75"><path d="M-14.2,-50.8 C-11.5,-49.6 -8.5,-47.6 -5.5,-44.8"/><path d="M-12.4,-42.2 L-8.2,-43.0"/><path d="M-10.8,-37.9 L-6.6,-38.8"/><path d="M-7.8,-33.3 L-4.4,-34.4"/><path d="M0.6,-36.6 C0.4,-34.2 -0.2,-31.6 -1.0,-29.4"/><path d="M-2.6,-43.0 L-3.0,-39.6"/></g></g>
<g transform="translate(429.4,1259.6) scale(0.72)"><path d="M-0.95,0 C-0.95,-9 -0.85,-18 -0.65,-27.5 L1.45,-27.5 C1.15,-18 0.95,-9 0.95,0 Z" fill="#4e7c38"/><path d="M-0.3,-25.8 C-2.6,-27.4 -4.2,-30.6 -3.9,-33.5 C-3.6,-36.5 -1.5,-38.8 0.7,-40.7 C3.5,-43.3 6.2,-46.2 9.4,-47.9 C11.2,-49.0 13.5,-50.2 15.9,-50.0 C15.9,-48.9 15.3,-48.2 14.5,-47.4 C13.6,-46.4 12.5,-45.5 11.4,-44.6 C10.6,-44.2 9.9,-44 9.4,-43.8 C10.8,-43.3 12.2,-42.8 13.1,-42 C13.8,-41.5 14.1,-41.1 14.0,-40.7 C13.1,-40.1 12.3,-39.8 11.3,-39.7 C10.3,-39.6 9.3,-39.5 8.4,-39.3 C9.4,-38.7 10.6,-38.3 11.3,-37.8 C11.7,-37.5 11.9,-37.1 11.8,-36.8 C11.1,-36.3 10.3,-36.1 9.4,-35.9 C8.5,-35.6 7.7,-35.2 7.0,-34.9 C7.6,-34.3 8.1,-33.6 8.2,-33.0 C8.2,-32.5 8.0,-32.1 7.7,-31.8 C7,-31.5 6.2,-31.3 5.5,-31.1 C4.4,-30.3 3.4,-29.3 2.6,-28.2 C2,-27.4 1.6,-26.6 1.2,-25.8 Z" fill="#3d6a25"/><g stroke="#6f9a4c" stroke-width="0.7" fill="none" stroke-linecap="round" opacity="0.75"><path d="M3.5,-41.5 C6,-44 9,-46.5 13.5,-48.8"/><path d="M9.8,-42.4 L12.6,-41.2"/><path d="M7.6,-38.2 L10.6,-37.2"/><path d="M5.0,-33.6 L7.2,-32.4"/><path d="M-2.2,-34.5 C-1.8,-32.6 -1.2,-30.6 0,-28.8"/><path d="M0.4,-38.2 L1.8,-35.2"/></g></g>
<g transform="translate(531.0,1260.6) scale(0.700)"><path d="M-0.95,0 C-0.95,-9 -0.85,-18 -0.65,-27.0 L1.45,-27.0 C1.15,-18 0.95,-9 0.95,0 Z" fill="#a68524"/><path d="M-0.3,-26.3 C0.9,-28 2.1,-31.5 2.0,-34.4 C1.9,-36.6 0.8,-39.4 -1.8,-42 C-3.6,-43.8 -6.2,-47.6 -9.4,-49.6 C-11.6,-51 -14,-52 -15.9,-51.6 C-16,-50.9 -15.6,-50.4 -15.2,-50.0 C-14.1,-49.0 -12.9,-48.3 -11.9,-47.5 C-11.1,-46.8 -10.4,-45.9 -9.9,-45.0 C-11.4,-44.3 -12.8,-43.4 -13.7,-42.5 C-14,-42.1 -13.8,-41.6 -13.4,-41.2 C-12.1,-40.8 -10.6,-40.6 -9.4,-40.5 C-10.6,-39.8 -11.6,-38.8 -12.1,-37.9 C-12.2,-37.4 -11.7,-37.1 -11.1,-36.9 C-9.8,-36.5 -8.5,-36.2 -7.3,-35.9 C-8.1,-35.2 -8.8,-34.3 -8.9,-33.4 C-8.9,-32.8 -8.2,-32.3 -7.3,-31.9 C-6,-31 -4.8,-29.8 -3.8,-28.8 C-2.8,-27.8 -2,-27 -1.3,-26.3 Z" fill="#37702a"/><g stroke="#5a9445" stroke-width="0.75" fill="none" stroke-linecap="round" opacity="0.75"><path d="M-14.2,-50.8 C-11.5,-49.6 -8.5,-47.6 -5.5,-44.8"/><path d="M-12.4,-42.2 L-8.2,-43.0"/><path d="M-10.8,-37.9 L-6.6,-38.8"/><path d="M-7.8,-33.3 L-4.4,-34.4"/><path d="M0.6,-36.6 C0.4,-34.2 -0.2,-31.6 -1.0,-29.4"/><path d="M-2.6,-43.0 L-3.0,-39.6"/></g></g>
<text x="58" y="1255.5" class="lg" style="font-size:22.9px">winter wheat</text>
<text x="226.4" y="1255.5" class="lg" style="font-size:23.4px">potato</text>
<text x="323" y="1255.5" class="lg" style="font-size:21.7px">silage rye</text>
<text x="440" y="1255.5" class="lg" style="font-size:22.9px">triticale</text>
<text x="546.6" y="1257" class="lg" style="font-size:22.9px">winter rye</text>
</svg>
</body></html>
